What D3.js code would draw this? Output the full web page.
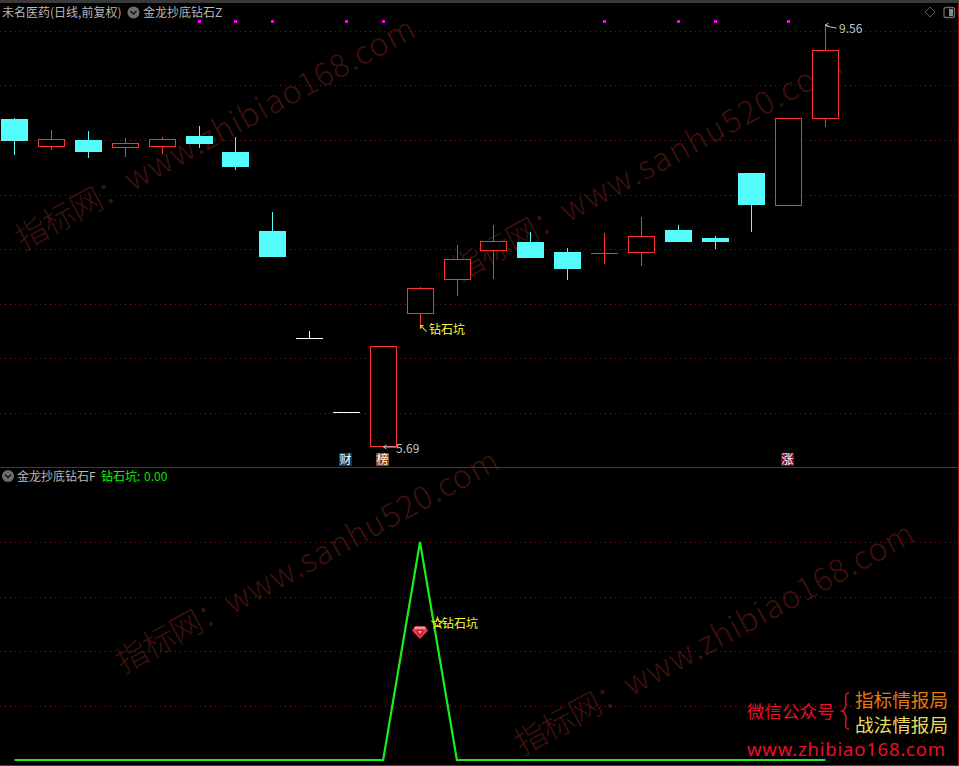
<!DOCTYPE html>
<html><head><meta charset="utf-8">
<script src="https://cdn.jsdelivr.net/npm/d3@7/dist/d3.min.js"></script>
<style>html,body{margin:0;padding:0;background:#000;overflow:hidden}svg{display:block}
text{font-family:"Noto Sans CJK SC","Noto Sans",sans-serif}</style></head><body>
<script>
const opens  = [8.69,8.44,8.50,8.43,8.44,8.54,8.39,7.67,6.68,6.01,5.69,6.91,7.22,7.49,7.57,7.47,7.46,7.47,7.68,7.60,8.20,7.90,8.70];
const closes = [8.49,8.50,8.39,8.47,8.50,8.46,8.25,7.43,6.68,6.01,6.61,7.14,7.41,7.57,7.42,7.32,7.46,7.62,7.57,7.57,7.90,8.70,9.32];
const highs  = [8.70,8.59,8.58,8.52,8.53,8.63,8.53,7.84,6.75,6.01,6.61,7.15,7.54,7.72,7.66,7.51,7.65,7.79,7.72,7.62,8.20,8.70,9.56];
const lows   = [8.36,8.41,8.33,8.34,8.37,8.43,8.22,7.43,6.68,6.01,5.69,6.80,7.07,7.23,7.42,7.22,7.36,7.35,7.57,7.50,7.66,7.90,8.62];
const dojiWhite = [8,9];
const signalDots = [5,6,7,9,10,16,18,19,21];
const priceTicks = [6,6.5,7,7.5,8,8.5,9,9.5];
const pitValues = [0,0,0,0,0,0,0,0,0,0,0,100,0,0,0,0,0,0,0,0,0,0,0];
const pitTicks = [25,50,75,100];
const badges = [{i:9,t:"财",c:"#0d3a66"},{i:10,t:"榜",c:"#8a4a10"},{i:21,t:"涨",c:"#8a0a10"}];
const titleTop = ["未名医药(日线,前复权)","金龙抄底钻石Z"];
const titleBottom = ["金龙抄底钻石F","钻石坑:","0.00"];
const watermarks = [
 {p:"指标网：",t:"www.zhibiao168.com",s:1,a:[23,251]},
 {p:"指标网：",t:"www.sanhu520.com",s:1.6,a:[459,282]},
 {p:"指标网：",t:"www.sanhu520.com",s:1,a:[123,674]},
 {p:"指标网：",t:"www.zhibiao168.com",s:1,a:[522,756]}];

const W=959,H=766;
const svg=d3.select("body").append("svg").attr("width",W).attr("height",H).style("background","#000");
const x=d3.scaleLinear().domain([0,22]).range([14.25,825.17]);
const y=d3.scaleLinear().domain([6,9.5]).range([413.1,30.6]);
const y2=d3.scaleLinear().domain([0,100]).range([760,542]);
const px=v=>Math.round(v)+0.5;
const RED="#ff3232",CY="#54fcfc",GRID="#8a1212";

// watermarks
const wm=svg.append("g").selectAll("text").data(watermarks).join("text")
 .attr("transform",d=>`translate(${d.a[0]},${d.a[1]}) rotate(-28.6)`)
 .attr("font-size",32).attr("font-weight",300)
 .style("font-family",'"Noto Sans CJK SC",sans-serif')
 .attr("fill","#3e120c");
wm.append("tspan").attr("letter-spacing",-1).text(d=>d.p);
wm.append("tspan").attr("letter-spacing",d=>d.s).text(d=>d.t);

// frame
const frame=svg.append("g").attr("shape-rendering","crispEdges");
frame.append("rect").attr("x",0).attr("y",0).attr("width",W).attr("height",2.5).attr("fill","#3a3a3a");
frame.append("line").attr("x1",958.5).attr("x2",958.5).attr("y1",3).attr("y2",H).attr("stroke","#a81010");
frame.append("line").attr("x1",0).attr("x2",W).attr("y1",467.5).attr("y2",467.5).attr("stroke","#a81010");
frame.append("line").attr("x1",0).attr("x2",W).attr("y1",765.5).attr("y2",765.5).attr("stroke","#a81010");

// grid via axes
const gridAxis=(g,sc,ticks)=>g.call(d3.axisRight(sc).tickValues(ticks).tickSize(W-3).tickFormat(""))
  .call(s=>s.select(".domain").remove())
  .call(s=>s.selectAll("line").attr("stroke",GRID).attr("stroke-dasharray","1 4").attr("shape-rendering","crispEdges"));
svg.append("g").call(gridAxis,y,priceTicks);
svg.append("g").call(gridAxis,y2,pitTicks);

// candles
const idx=d3.range(opens.length);
const cs=svg.append("g").attr("shape-rendering","crispEdges");
const isDoji=i=>opens[i]===closes[i];
const isUp=i=>closes[i]>opens[i];
const col=i=>dojiWhite.includes(i)?"#fff":(closes[i]>=opens[i]?RED:CY);
cs.selectAll(".w").data(idx).join("line").attr("class","w")
 .attr("x1",i=>px(x(i))).attr("x2",i=>px(x(i))).attr("y1",i=>y(highs[i])).attr("y2",i=>y(lows[i])).attr("stroke",col);
// rising candles: hollow red outline
cs.selectAll(".u").data(idx.filter(isUp)).join("rect").attr("class","u")
 .attr("x",i=>Math.round(x(i))-13+0.5).attr("width",26)
 .attr("y",i=>Math.floor(y(closes[i]))+0.5)
 .attr("height",i=>Math.floor(y(opens[i]))-Math.floor(y(closes[i])))
 .attr("fill","#000").attr("stroke",RED);
// falling candles: solid cyan
cs.selectAll(".f").data(idx.filter(i=>closes[i]<opens[i])).join("rect").attr("class","f")
 .attr("x",i=>Math.round(x(i))-13).attr("width",27)
 .attr("y",i=>Math.round(y(opens[i])))
 .attr("height",i=>Math.round(y(closes[i]))-Math.round(y(opens[i])))
 .attr("fill",CY);
cs.selectAll(".d").data(idx.filter(isDoji)).join("line").attr("class","d")
 .attr("x1",i=>Math.round(x(i))-13).attr("x2",i=>Math.round(x(i))+14)
 .attr("y1",i=>Math.floor(y(opens[i]))+0.5).attr("y2",i=>Math.floor(y(opens[i]))+0.5).attr("stroke",col);

// signal dots
svg.append("g").attr("shape-rendering","crispEdges").selectAll("rect").data(signalDots).join("rect")
 .attr("x",i=>Math.round(x(i))-1).attr("y",20).attr("width",3).attr("height",3).attr("fill","#ff00ff");

// badges
const bg=svg.append("g").selectAll("g").data(badges).join("g").attr("transform",d=>`translate(${Math.round(x(d.i))-7},453)`);
bg.append("rect").attr("width",13).attr("height",13).attr("fill",d=>d.c).attr("shape-rendering","crispEdges");
bg.append("text").attr("x",6.5).attr("y",11).attr("text-anchor","middle").attr("font-size",12).attr("fill","#fff").text(d=>d.t);

// titles
const T=(s,tx,ty,c,fs=12,a="start")=>svg.append("text").attr("x",tx).attr("y",ty).attr("font-size",fs).attr("fill",c).attr("text-anchor",a).text(s);
T(titleTop[0],2,17,"#b8b8b8");
T(titleTop[1],143,17,"#b8b8b8");
T(titleBottom[0],17,481,"#b8b8b8");
T(titleBottom[1],101,481,"#00ff00");
T(titleBottom[2],144,481,"#00e000");
const chev=(cx,cy)=>{svg.append("circle").attr("cx",cx).attr("cy",cy).attr("r",6).attr("fill","#6e6e6e");
 svg.append("path").attr("d",`M${cx-3},${cy-1.5}L${cx},${cy+1.5}L${cx+3},${cy-1.5}`).attr("fill","none").attr("stroke","#111").attr("stroke-width",1.4);};
chev(133.5,12.5);chev(8,476);
svg.append("path").attr("d","M930,7L935,12L930,17L925,12Z").attr("fill","none").attr("stroke","#5a5a5a");
svg.append("rect").attr("x",944).attr("y",7.5).attr("width",10.5).attr("height",10).attr("rx",2).attr("fill","none").attr("stroke","#6a6a6a").attr("stroke-width",1.3);
svg.append("rect").attr("x",949).attr("y",9).attr("width",4).attr("height",7).attr("fill","#8a8a8a");

// high / low labels
const L="#c4c4c4";
const hx=px(x(22)),hy=y(9.56);
svg.append("path").attr("d",`M${hx+5},${hy+3}L${hx},${hy+1}M${hx},${hy+1}L${hx+3},${hy-1}M${hx},${hy+1}L${hx+3},${hy+3}M${hx+5},${hy+3}L${hx+11},${hy+4}`).attr("fill","none").attr("stroke",L);
T("9.56",839,33,L);
const lx=px(x(10)),ly=y(5.69);
svg.append("path").attr("d",`M${lx+13},${ly}L${lx},${ly}M${lx},${ly}L${lx+3},${ly-2}M${lx},${ly}L${lx+3},${ly+2}`).attr("fill","none").attr("stroke",L);
T("5.69",396,453,L);

// pit label on candle 11
const ax=px(x(11)),ay=y(lows[11]);
svg.append("path").attr("d",`M${ax},${ay}L${ax+6},${ay+6}M${ax},${ay}L${ax+3},${ay}M${ax},${ay}L${ax},${ay+3}`).attr("fill","none").attr("stroke","#e8d800").attr("stroke-width",1.2);
T("钻石坑",429,333.5,"#ffff33");

// lower line
svg.append("path").datum(idx).attr("d",d3.line().x(i=>x(i)+0.3).y(i=>y2(pitValues[i])))
 .attr("fill","none").attr("stroke","#1aee1a").attr("stroke-width",2.2);

// gem + star
const gx=x(11)+0.3,gy=y2(58.7);
const g=svg.append("g").attr("transform",`translate(${gx},${gy})`);
g.append("path").attr("d","M-5,-5.5L5,-5.5L8,-1.5L0,7L-8,-1.5Z").attr("fill","#ee3a4a");
g.append("path").attr("d","M-5,-5.5L5,-5.5L6,-3L-6,-3Z").attr("fill","#ff8a8a");
g.append("path").attr("d","M-4,-1L0,4.5L4,-1L2,-2L-2,-2Z").attr("fill","#c01a30");
g.append("path").attr("d","M-2,-1L0,2L2,-1Z").attr("fill","#ffb0b0");
const star=d3.symbol().type(d3.symbolStar).size(34)();
svg.append("path").attr("d",star).attr("transform",`translate(${gx+17.5},${y2(62.8)})`).attr("fill","none").attr("stroke","#f0e000").attr("stroke-width",1.3);
T("钻石坑",442,627.5,"#ffff33");

// brand
T("微信公众号",747,718,"#e8102a",17.5);
T("指标情报局",855,707,"#e07c10",18.6);
T("战法情报局",855,732,"#e8dc60",18.6);
svg.append("path").attr("d","M849,693C844,693 846,698 846,703C846,708 845,710 842,711C845,712 846,714 846,719C846,724 844,729 849,729")
 .attr("fill","none").attr("stroke","#e8102a").attr("stroke-width",1.4);
T("www.zhibiao168.com",747,756,"#e8102a",18.5).attr("textLength",198).style("font-family",'"Noto Sans",sans-serif');
</script></body></html>
